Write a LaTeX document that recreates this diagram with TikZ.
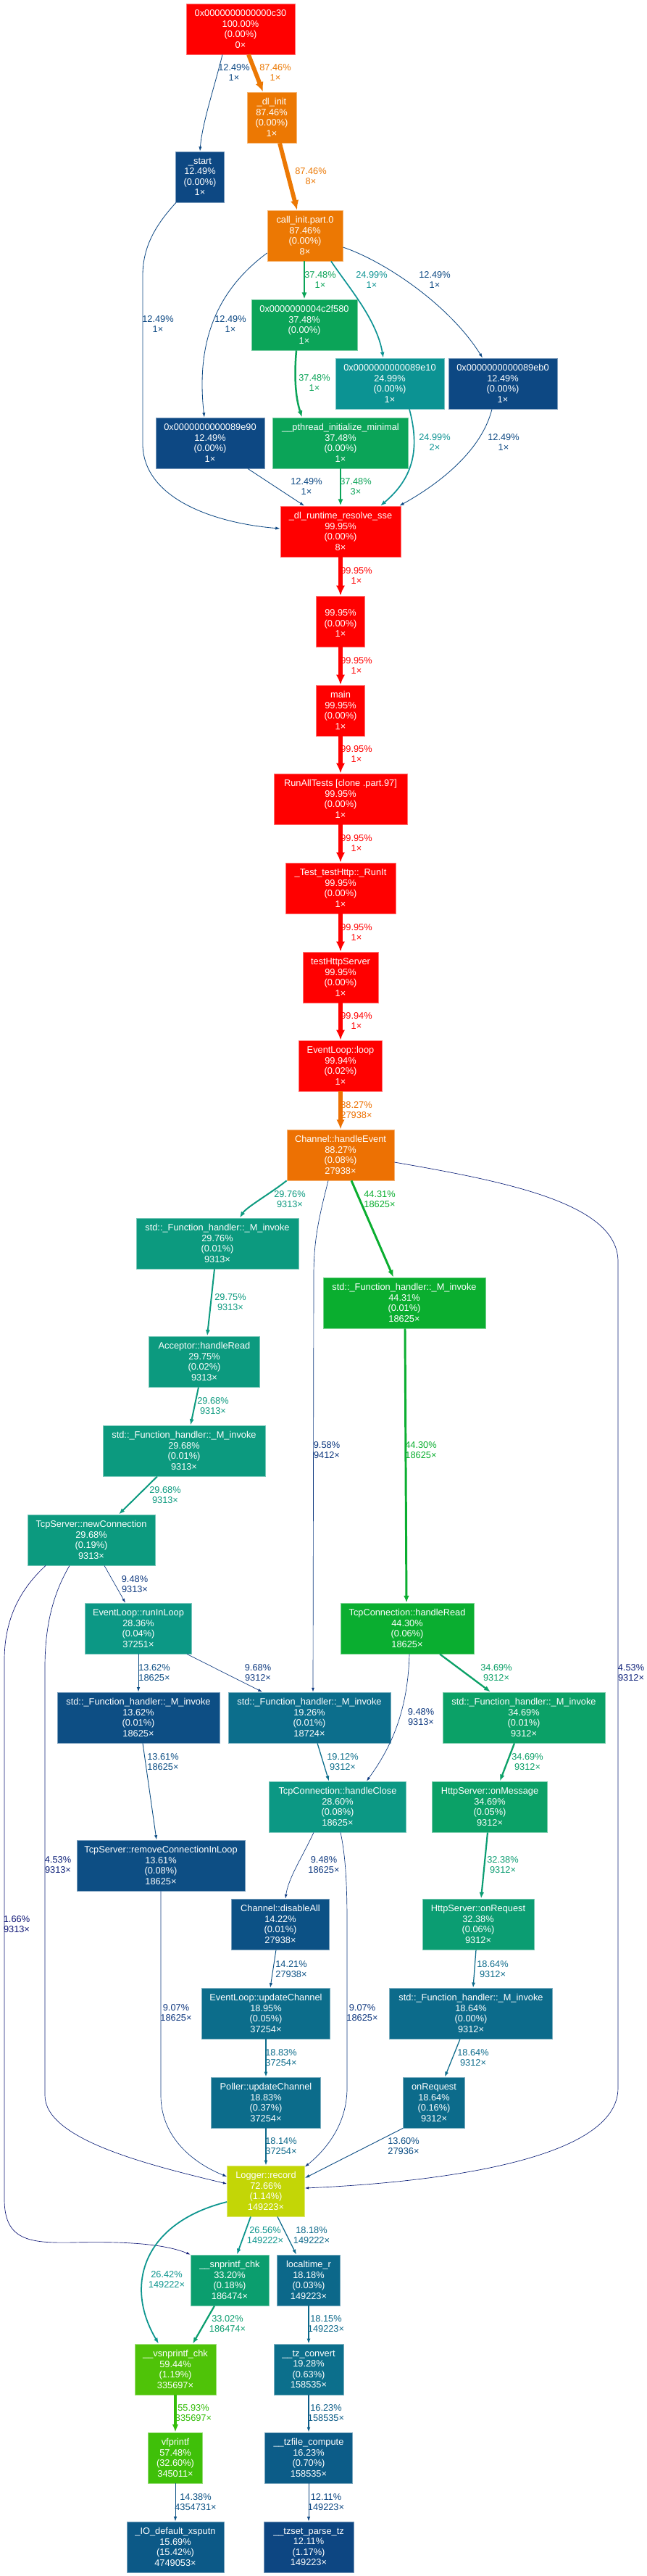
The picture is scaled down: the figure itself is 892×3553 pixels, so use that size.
\documentclass[tikz,border=0pt]{standalone}
\usepackage{fontspec}
\setmainfont{Liberation Sans}
\usetikzlibrary{arrows.meta,calc}
\newcommand\nf{\fontsize{9.6}{10.9}\selectfont}
\newcommand\gphue[4]{%
  \pgfmathsetmacro\gphh{(#4)-floor(#4)}%
  \pgfmathsetmacro#1{(\gphh<1/6) ? ((#2)+((#3)-(#2))*\gphh*6) : ((\gphh<0.5) ? (#3) : ((\gphh<2/3) ? ((#2)+((#3)-(#2))*(2/3-\gphh)*6) : (#2)))}%
  \pgfmathsetmacro#1{min(1,max(0,#1))}%
}
\newcommand\gpcol[1]{%
  \pgfmathsetmacro\gpw{#1/10000}%
  \pgfmathsetmacro\gph{(2/3)*(1-\gpw)}%
  \pgfmathsetmacro\gps{0.8+0.2*\gpw}%
  \pgfmathsetmacro\gpl{0.25+0.25*\gpw}%
  \pgfmathsetmacro\gpmb{\gpl*(1+\gps)}%
  \pgfmathsetmacro\gpma{2*\gpl-\gpmb}%
  \gphue\gpr\gpma\gpmb{\gph+1/3}%
  \gphue\gpg\gpma\gpmb{\gph}%
  \gphue\gpb\gpma\gpmb{\gph-1/3}%
  \edef\gptmp{\noexpand\definecolor{c#1}{rgb}{\gpr,\gpg,\gpb}}\gptmp
}
\gpcol{10000}\gpcol{9995}\gpcol{9994}\gpcol{8827}\gpcol{8746}\gpcol{7266}
\gpcol{5944}\gpcol{5748}\gpcol{5593}\gpcol{4431}\gpcol{4430}\gpcol{3748}
\gpcol{3469}\gpcol{3320}\gpcol{3302}\gpcol{3238}\gpcol{2976}\gpcol{2975}
\gpcol{2968}\gpcol{2860}\gpcol{2836}\gpcol{2656}\gpcol{2642}\gpcol{2499}
\gpcol{1928}\gpcol{1926}\gpcol{1912}\gpcol{1895}\gpcol{1883}\gpcol{1864}
\gpcol{1818}\gpcol{1815}\gpcol{1814}\gpcol{1623}\gpcol{1569}\gpcol{1438}
\gpcol{1422}\gpcol{1421}\gpcol{1362}\gpcol{1361}\gpcol{1360}\gpcol{1249}
\gpcol{1211}\gpcol{968}\gpcol{958}\gpcol{948}\gpcol{907}\gpcol{453}\gpcol{166}
\tikzset{
  fnode/.style 2 args={rectangle, fill=c#1, draw=c#1!55!white, line width=0.6pt,
    text=white, align=center, font=\nf, inner xsep=2pt, inner ysep=0pt,
    minimum height=52.5pt, minimum width=#2*0.75pt},
  elab/.style={text=c#1, align=center, font=\nf, inner sep=0pt},
  cedge/.code={%
    \pgfmathsetmacro\ew{max(#1/10000*5,0.5)}%
    \pgfmathsetmacro\eL{2+2.5*sqrt(max(#1/10000*8,0.5))}%
    \pgfmathsetmacro\eal{\eL+0.3*\ew}%
    \pgfmathsetmacro\eaw{0.6*\eL+0.8*\ew}%
    \tikzset{draw=c#1,line width=\ew pt,-{Latex[length=\eal pt,width=\eaw pt]}}%
  }
}
\newcommand\elabel[6]{\node[elab=#2] (#1) at (#3,#4) {#5\%\\#6×};}
\newcommand\fh{std::\_Function\_handler::\_M\_invoke}
\begin{document}
\begin{tikzpicture}[x=0.75pt,y=-0.75pt]
\fill[white] (0,0) rectangle (892,3553);
\useasboundingbox (0,0) rectangle (892,3553);
% nodes
\node[fnode={10000}{150}] (n0) at (332,40) {0x0000000000000c30\\100.00\%\\(0.00\%)\\0×};
\node[fnode={8746}{68}] (dlinit) at (375,162) {\_dl\_init\\87.46\%\\(0.00\%)\\1×};
\node[fnode={1249}{67}] (start) at (276,244) {\_start\\12.49\%\\(0.00\%)\\1×};
\node[fnode={8746}{104}] (callinit) at (421,325) {call\_init.part.0\\87.46\%\\(0.00\%)\\8×};
\node[fnode={3748}{146}] (n4c) at (420,448) {0x0000000004c2f580\\37.48\%\\(0.00\%)\\1×};
\node[fnode={2499}{150}] (n9e10) at (538,529) {0x0000000000089e10\\24.99\%\\(0.00\%)\\1×};
\node[fnode={1249}{150}] (n9eb0) at (694,529) {0x0000000000089eb0\\12.49\%\\(0.00\%)\\1×};
\node[fnode={1249}{150}] (n9e90) at (290,611) {0x0000000000089e90\\12.49\%\\(0.00\%)\\1×};
\node[fnode={3748}{187}] (pthread) at (470,611) {\_\_pthread\_initialize\_minimal\\37.48\%\\(0.00\%)\\1×};
\node[fnode={9995}{166}] (dlrt) at (470,733) {\_dl\_runtime\_resolve\_sse\\99.95\%\\(0.00\%)\\8×};
\node[fnode={9995}{67}] (anon) at (470,857) {\mbox{}\\99.95\%\\(0.00\%)\\1×};
\node[fnode={9995}{67}] (main) at (470,980) {main\\99.95\%\\(0.00\%)\\1×};
\node[fnode={9995}{184}] (runall) at (470,1102) {RunAllTests [clone .part.97]\\99.95\%\\(0.00\%)\\1×};
\node[fnode={9995}{152}] (test) at (470,1225) {\_Test\_testHttp::\_RunIt\\99.95\%\\(0.00\%)\\1×};
\node[fnode={9995}{104}] (ths) at (470,1348) {testHttpServer\\99.95\%\\(0.00\%)\\1×};
\node[fnode={9994}{115}] (loop) at (470,1470) {EventLoop::loop\\99.94\%\\(0.02\%)\\1×};
\node[fnode={8827}{148}] (he) at (470,1593) {Channel::handleEvent\\88.27\%\\(0.08\%)\\27938×};
\node[fnode={2976}{224}] (fa) at (300,1715) {\fh\\29.76\%\\(0.01\%)\\9313×};
\node[fnode={4431}{224}] (fb) at (558,1797) {\fh\\44.31\%\\(0.01\%)\\18625×};
\node[fnode={2975}{153}] (acc) at (282,1878) {Acceptor::handleRead\\29.75\%\\(0.02\%)\\9313×};
\node[fnode={2968}{224}] (fc) at (254,2001) {\fh\\29.68\%\\(0.01\%)\\9313×};
\node[fnode={2968}{176}] (nc) at (126,2124) {TcpServer::newConnection\\29.68\%\\(0.19\%)\\9313×};
\node[fnode={2836}{147}] (ril) at (191,2246) {EventLoop::runInLoop\\28.36\%\\(0.04\%)\\37251×};
\node[fnode={4430}{184}] (thr) at (562,2246) {TcpConnection::handleRead\\44.30\%\\(0.06\%)\\18625×};
\node[fnode={1362}{224}] (fd) at (191,2369) {\fh\\13.62\%\\(0.01\%)\\18625×};
\node[fnode={1926}{224}] (fe) at (427,2369) {\fh\\19.26\%\\(0.01\%)\\18724×};
\node[fnode={3469}{224}] (ff) at (723,2369) {\fh\\34.69\%\\(0.01\%)\\9312×};
\node[fnode={1361}{232}] (rcl) at (222,2573) {TcpServer::removeConnectionInLoop\\13.61\%\\(0.08\%)\\18625×};
\node[fnode={2860}{189}] (hc) at (466,2492) {TcpConnection::handleClose\\28.60\%\\(0.08\%)\\18625×};
\node[fnode={3469}{159}] (om) at (676,2492) {HttpServer::onMessage\\34.69\%\\(0.05\%)\\9312×};
\node[fnode={1422}{135}] (da) at (387,2654) {Channel::disableAll\\14.22\%\\(0.01\%)\\27938×};
\node[fnode={3238}{154}] (orq) at (660,2654) {HttpServer::onRequest\\32.38\%\\(0.06\%)\\9312×};
\node[fnode={1895}{177}] (uc) at (367,2777) {EventLoop::updateChannel\\18.95\%\\(0.05\%)\\37254×};
\node[fnode={1864}{225}] (fg) at (650,2777) {\fh\\18.64\%\\(0.00\%)\\9312×};
\node[fnode={1883}{151}] (puc) at (367,2900) {Poller::updateChannel\\18.83\%\\(0.37\%)\\37254×};
\node[fnode={1864}{85}] (onr) at (599,2900) {onRequest\\18.64\%\\(0.16\%)\\9312×};
\node[fnode={7266}{107}] (lr) at (367,3022) {Logger::record\\72.66\%\\(1.14\%)\\149223×};
\node[fnode={3320}{108}] (snp) at (317,3145) {\_\_snprintf\_chk\\33.20\%\\(0.18\%)\\186474×};
\node[fnode={1818}{87}] (lt) at (426,3145) {localtime\_r\\18.18\%\\(0.03\%)\\149223×};
\node[fnode={5944}{112}] (vsn) at (242,3268) {\_\_vsnprintf\_chk\\59.44\%\\(1.19\%)\\335697×};
\node[fnode={1928}{96}] (tzc) at (426,3268) {\_\_tz\_convert\\19.28\%\\(0.63\%)\\158535×};
\node[fnode={5748}{75}] (vfp) at (242,3390) {vfprintf\\57.48\%\\(32.60\%)\\345011×};
\node[fnode={1623}{121}] (tzf) at (426,3390) {\_\_tzfile\_compute\\16.23\%\\(0.70\%)\\158535×};
\node[fnode={1569}{134}] (io) at (242,3513) {\_IO\_default\_xsputn\\15.69\%\\(15.42\%)\\4749053×};
\node[fnode={1211}{124}] (tzp) at (426,3513) {\_\_tzset\_parse\_tz\\12.11\%\\(1.17\%)\\149223×};
% edges
\draw[cedge=1249] ($(n0.south)+(-25,0)$) .. controls (296,120) and (279,170) .. (start.north);
\draw[cedge=8746] ($(n0.south)+(11,0)$) -- ($(dlinit.north)+(-12,0)$);
\draw[cedge=8746] ($(dlinit.south)+(11,0)$) -- ($(callinit.north)+(-11,0)$);
\draw[cedge=1249] ($(start.south)+(-33,0)$) .. controls (215,310) and (197,340) .. (197,380) -- (197,615) .. controls (200,690) and (300,722) .. ($(dlrt.west)+(0,-4)$);
\draw[cedge=3748] ($(callinit.south)+(-1,0)$) -- (n4c.north);
\draw[cedge=2499] ($(callinit.south)+(36,0)$) .. controls (480,395) and (520,440) .. ($(n9e10.north)+(-9,0)$);
\draw[cedge=1249] ($(callinit.east)+(0,16)$) .. controls (530,360) and (620,420) .. ($(n9eb0.north)+(-28,0)$);
\draw[cedge=1249] ($(callinit.west)+(0,24)$) .. controls (300,400) and (270,470) .. ($(n9e90.north)+(-8,0)$);
\draw[cedge=3748] ($(n4c.south)+(-11,0)$) .. controls (405,530) and (410,555) .. ($(pthread.north)+(-53,0)$);
\draw[cedge=2499] ($(n9e10.south)+(27,0)$) .. controls (580,620) and (570,660) .. ($(dlrt.north)+(55,0)$);
\draw[cedge=1249] ($(n9eb0.south)+(-15,0)$) .. controls (665,620) and (610,665) .. ($(dlrt.north east)+(-2,0)$);
\draw[cedge=1249] ($(n9e90.south)+(52,0)$) -- ($(dlrt.north)+(-50,0)$);
\draw[cedge=3748] (pthread) -- (dlrt);
\draw[cedge=9995] (dlrt) -- (anon);
\draw[cedge=9995] (anon) -- (main);
\draw[cedge=9995] (main) -- (runall);
\draw[cedge=9995] (runall) -- (test);
\draw[cedge=9995] (test) -- (ths);
\draw[cedge=9994] (ths) -- (loop);
\draw[cedge=8827] (loop) -- (he);
\draw[cedge=2976] (he.south west) .. controls (375,1645) and (340,1665) .. ($(fa.north)+(31,0)$);
\draw[cedge=4431] ($(he.south)+(15,0)$) -- ($(fb.north)+(-15,0)$);
\draw[cedge=958] ($(he.south)+(-17,0)$) .. controls (440,1680) and (433,1710) .. (433,1760) -- ($(fe.north)+(5,0)$);
\draw[cedge=453] ($(he.east)+(0,10)$) .. controls (700,1630) and (853,1660) .. (853,1740) -- (853,2880) .. controls (853,2980) and (600,3010) .. ($(lr.east)+(0,-4)$);
\draw[cedge=2975] ($(fa.south)+(-4,0)$) -- ($(acc.north)+(4,0)$);
\draw[cedge=2968] ($(acc.south)+(-8,0)$) -- ($(fc.north)+(9,0)$);
\draw[cedge=4430] ($(fb.south)+(1,0)$) -- ($(thr.north)+(-1,0)$);
\draw[cedge=2968] ($(fc.south)+(-37,0)$) -- ($(nc.north)+(38,0)$);
\draw[cedge=948] ($(nc.south)+(18,0)$) -- ($(ril.north)+(-18,0)$);
\draw[cedge=453] ($(nc.south)+(-30,0)$) .. controls (74,2197) and (62,2240) .. (62,2300) -- (62,2890) .. controls (62,2950) and (200,2985) .. ($(lr.west)+(0,-10)$);
\draw[cedge=166] ($(nc.south)+(-63,0)$) .. controls (30,2190) and (6,2230) .. (6,2290) -- (6,3033) .. controls (6,3090) and (40,3094) .. (100,3093) .. controls (180,3091) and (230,3096) .. (snp.north west);
\draw[cedge=1362] (ril) -- (fd);
\draw[cedge=968] ($(ril.south)+(67,0)$) -- ($(fe.north)+(-65,0)$);
\draw[cedge=3469] ($(thr.south)+(45,0)$) -- ($(ff.north)+(-46,0)$);
\draw[cedge=948] ($(thr.south)+(3,0)$) .. controls (563,2360) and (540,2410) .. ($(hc.north)+(40,0)$);
\draw[cedge=1361] ($(fd.south)+(6,0)$) -- ($(rcl.north)+(-6,0)$);
\draw[cedge=1912] ($(fe.south)+(11,0)$) -- ($(hc.north)+(-12,0)$);
\draw[cedge=3469] ($(ff.south)+(-13,0)$) -- ($(om.north)+(14,0)$);
\draw[cedge=948] ($(hc.south)+(-33,0)$) .. controls (418,2560) and (398,2590) .. ($(da.north)+(7,0)$);
\draw[cedge=907] ($(hc.south)+(4,0)$) .. controls (477,2560) and (479,2600) .. (479,2650) -- (479,2880) .. controls (479,2930) and (450,2965) .. ($(lr.north east)+(0,2)$);
\draw[cedge=907] (rcl.south) -- (222,2890) .. controls (222,2950) and (270,2985) .. ($(lr.west)+(0,-20)$);
\draw[cedge=3238] ($(om.south)+(-3,0)$) -- ($(orq.north)+(4,0)$);
\draw[cedge=1864] ($(orq.south)+(-3,0)$) -- ($(fg.north)+(3,0)$);
\draw[cedge=1421] ($(da.south)+(-6,0)$) -- ($(uc.north)+(6,0)$);
\draw[cedge=1883] (uc) -- (puc);
\draw[cedge=1864] ($(fg.south)+(-15,0)$) -- ($(onr.north)+(15,0)$);
\draw[cedge=1814] (puc) -- (lr);
\draw[cedge=1360] (onr.south west) -- ($(lr.east)+(0,-18)$);
\draw[cedge=2656] ($(lr.south)+(-21,0)$) -- ($(snp.north)+(10,0)$);
\draw[cedge=1818] ($(lr.south)+(16,0)$) -- ($(lt.north)+(-17,0)$);
\draw[cedge=2642] ($(lr.west)+(0,15)$) .. controls (200,3065) and (170,3150) .. ($(vsn.north)+(-23,0)$);
\draw[cedge=3302] ($(snp.south)+(-21,0)$) -- ($(vsn.north)+(24,0)$);
\draw[cedge=1815] (lt) -- (tzc);
\draw[cedge=5593] (vsn) -- (vfp);
\draw[cedge=1623] (tzc) -- (tzf);
\draw[cedge=1438] (vfp) -- (io);
\draw[cedge=1211] (tzf) -- (tzp);
% edge labels
\elabel{l1}{1249}{323}{100}{12.49}{1}
\elabel{l2}{8746}{380}{100}{87.46}{1}
\elabel{l3}{8746}{429}{243}{87.46}{8}
\elabel{l4}{1249}{218}{447}{12.49}{1}
\elabel{l5}{3748}{442}{386}{37.48}{1}
\elabel{l6}{2499}{513}{386}{24.99}{1}
\elabel{l7}{1249}{600}{386}{12.49}{1}
\elabel{l8}{1249}{318}{447}{12.49}{1}
\elabel{l9}{3748}{434}{528}{37.48}{1}
\elabel{l10}{2499}{600}{610}{24.99}{2}
\elabel{l11}{1249}{695}{610}{12.49}{1}
\elabel{l12}{1249}{423}{671}{12.49}{1}
\elabel{l13}{3748}{491}{671}{37.48}{3}
\elabel{l14}{9995}{492}{794}{99.95}{1}
\elabel{l15}{9995}{492}{918}{99.95}{1}
\elabel{l16}{9995}{492}{1040}{99.95}{1}
\elabel{l17}{9995}{492}{1163}{99.95}{1}
\elabel{l18}{9995}{492}{1286}{99.95}{1}
\elabel{l19}{9994}{492}{1408}{99.94}{1}
\elabel{l20}{8827}{492}{1531}{88.27}{27938}
\elabel{l21}{2976}{400}{1654}{29.76}{9313}
\elabel{l22}{4431}{524}{1654}{44.31}{18625}
\elabel{l23}{958}{451}{2000}{9.58}{9412}
\elabel{l24}{453}{871}{2307}{4.53}{9312}
\elabel{l25}{2975}{318}{1796}{29.75}{9313}
\elabel{l26}{2968}{294}{1939}{29.68}{9313}
\elabel{l27}{4430}{581}{2000}{44.30}{18625}
\elabel{l28}{2968}{228}{2062}{29.68}{9313}
\elabel{l29}{948}{186}{2185}{9.48}{9313}
\elabel{l30}{453}{80}{2572}{4.53}{9313}
\elabel{l31}{166}{23}{2654}{1.66}{9313}
\elabel{l32}{1362}{213}{2307}{13.62}{18625}
\elabel{l33}{968}{356}{2307}{9.68}{9312}
\elabel{l34}{3469}{685}{2307}{34.69}{9312}
\elabel{l35}{948}{581}{2368}{9.48}{9313}
\elabel{l36}{1361}{225}{2430}{13.61}{18625}
\elabel{l37}{1912}{473}{2430}{19.12}{9312}
\elabel{l38}{3469}{728}{2430}{34.69}{9312}
\elabel{l39}{948}{447}{2572}{9.48}{18625}
\elabel{l40}{907}{500}{2776}{9.07}{18625}
\elabel{l41}{907}{243}{2776}{9.07}{18625}
\elabel{l42}{1864}{680}{2716}{18.64}{9312}
\elabel{l43}{3238}{694}{2572}{32.38}{9312}
\elabel{l44}{1421}{402}{2716}{14.21}{27938}
\elabel{l45}{1883}{388}{2838}{18.83}{37254}
\elabel{l46}{1864}{653}{2838}{18.64}{9312}
\elabel{l47}{1814}{388}{2960}{18.14}{37254}
\elabel{l48}{1360}{557}{2960}{13.60}{27936}
\elabel{l49}{2656}{366}{3083}{26.56}{149222}
\elabel{l50}{1818}{430}{3083}{18.18}{149222}
\elabel{l51}{2642}{230}{3144}{26.42}{149222}
\elabel{l52}{3302}{314}{3205}{33.02}{186474}
\elabel{l53}{1815}{450}{3205}{18.15}{149223}
\elabel{l54}{5593}{267}{3328}{55.93}{335697}
\elabel{l55}{1623}{450}{3328}{16.23}{158535}
\elabel{l56}{1438}{270}{3451}{14.38}{4354731}
\elabel{l57}{1211}{450}{3451}{12.11}{149223}
\end{tikzpicture}
\end{document}
